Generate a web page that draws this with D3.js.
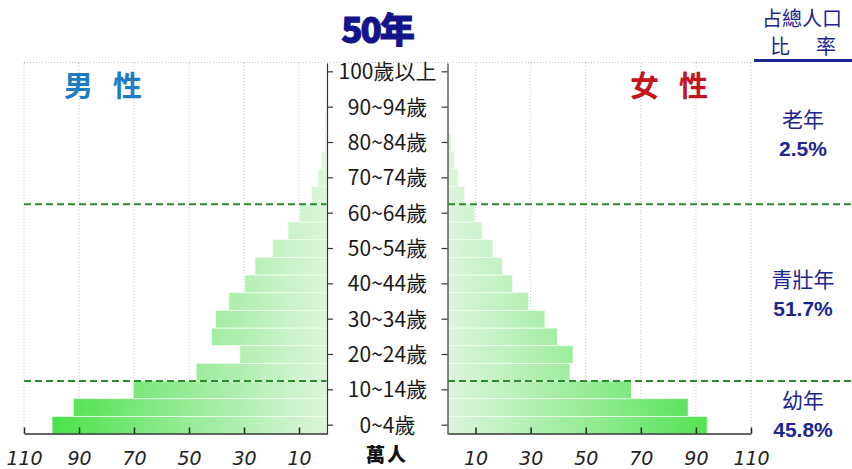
<!DOCTYPE html>
<html>
<head>
<meta charset="utf-8">
<script src="https://cdn.jsdelivr.net/npm/d3@7"></script>
<style>
  body { margin: 0; background: #fff; }
  svg { display: block; }
</style>
</head>
<body>
<div id="vis"></div>
<script>
// age groups, bottom to top
const ages = ["0~4歲", "5~9歲", "10~14歲", "15~19歲", "20~24歲", "25~29歲", "30~34歲",
  "35~39歲", "40~44歲", "45~49歲", "50~54歲", "55~59歲", "60~64歲", "65~69歲",
  "70~74歲", "75~79歲", "80~84歲", "85~89歲", "90~94歲", "95~99歲", "100歲以上"];

// population in 萬人
const male = [99.8, 92.1, 70.3, 47.4, 31.5, 41.8, 40.3, 35.5, 29.7, 26.0, 19.7, 14.0,
  9.7, 5.5, 3.1, 1.8, 0.7, 0.2, 0.05, 0, 0];
const female = [94.1, 87.2, 66.6, 44.3, 45.4, 39.7, 35.2, 29.3, 23.4, 19.7, 16.3, 12.4,
  9.6, 6.0, 3.6, 2.3, 1.2, 0.4, 0.1, 0, 0];

const xTicks = [10, 30, 50, 70, 90, 110];

const groupNames = ["老年", "青壯年", "幼年"];
const groupShares = ["2.5%", "51.7%", "45.8%"];

const W = 852, H = 469;
const plotTop = 63, plotBottom = 434;
const leftZero = 326.5, leftEnd = 24;
const rightZero = 448, rightEnd = 751;
const midX = 387;

const navy = "#1a2590";
const cjk = "'Noto Sans CJK TC', 'Noto Sans CJK SC', sans-serif";

const svg = d3.select("#vis")
  .append("svg")
  .attr("width", W)
  .attr("height", H)
  .style("font-family", cjk);

const y = d3.scaleBand()
  .domain(ages)
  .range([plotBottom, plotTop])
  .padding(0);

const xL = d3.scaleLinear().domain([0, 110]).range([leftZero, leftEnd]);
const xR = d3.scaleLinear().domain([0, 110]).range([rightZero, rightEnd]);

const defs = svg.append("defs");
function grad(id, x1, x2) {
  const g = defs.append("linearGradient")
    .attr("id", id)
    .attr("gradientUnits", "userSpaceOnUse")
    .attr("x1", x1).attr("x2", x2)
    .attr("y1", 0).attr("y2", 0);
  g.append("stop").attr("offset", "0%").attr("stop-color", "#dcf6dc");
  g.append("stop").attr("offset", "45%").attr("stop-color", "#9eec9e");
  g.append("stop").attr("offset", "100%").attr("stop-color", "#4ae24a");
}
grad("gL", xL(0), xL(100));
grad("gR", xR(0), xR(100));

// top dotted border
svg.append("line")
  .attr("x1", leftEnd).attr("x2", rightEnd)
  .attr("y1", plotTop - 0.5).attr("y2", plotTop - 0.5)
  .attr("stroke", "#c4c4cc")
  .attr("stroke-dasharray", "1,2");

// gridlines
function grid(scale) {
  svg.append("g")
    .selectAll("line")
    .data(xTicks)
    .enter()
    .append("line")
    .attr("x1", d => scale(d)).attr("x2", d => scale(d))
    .attr("y1", plotTop).attr("y2", plotBottom)
    .attr("stroke", "#c4c4cc")
    .attr("stroke-dasharray", "1,2");
}
grid(xL);
grid(xR);

// bars
svg.append("g")
  .selectAll("rect")
  .data(male)
  .enter()
  .append("rect")
  .attr("x", d => xL(d))
  .attr("y", (d, i) => y(ages[i]))
  .attr("width", d => xL(0) - xL(d))
  .attr("height", y.bandwidth())
  .attr("fill", "url(#gL)")
  .attr("stroke", "#f0fff0")
  .attr("stroke-width", 0.8);

svg.append("g")
  .selectAll("rect")
  .data(female)
  .enter()
  .append("rect")
  .attr("x", xR(0))
  .attr("y", (d, i) => y(ages[i]))
  .attr("width", d => xR(d) - xR(0))
  .attr("height", y.bandwidth())
  .attr("fill", "url(#gR)")
  .attr("stroke", "#f0fff0")
  .attr("stroke-width", 0.8);

// age axes on both sides of the label column
const labelled = ages.filter((d, i) => i % 2 === 0);

const axL = svg.append("g")
  .attr("transform", `translate(${leftZero + 0.5},0)`)
  .call(d3.axisRight(y).tickValues(labelled).tickSize(6).tickSizeOuter(0));
axL.select(".domain").attr("stroke", "#333").attr("stroke-width", 1.2);
axL.selectAll(".tick line").attr("stroke", "#333").attr("stroke-width", 1.2);
axL.selectAll(".tick text")
  .attr("x", midX - leftZero)
  .attr("dy", "0.36em")
  .attr("text-anchor", "middle")
  .attr("font-family", cjk)
  .attr("font-size", 21)
  .attr("fill", "#1a1a1a");

const axR = svg.append("g")
  .attr("transform", `translate(${rightZero - 0.5},0)`)
  .call(d3.axisLeft(y).tickValues(labelled).tickSize(6).tickSizeOuter(0).tickFormat(""));
axR.select(".domain").attr("stroke", "#333").attr("stroke-width", 1.2);
axR.selectAll(".tick line").attr("stroke", "#333").attr("stroke-width", 1.2);

// bottom axes
function bottomAxis(scale) {
  const g = svg.append("g")
    .attr("transform", `translate(0,${plotBottom - 0.5})`)
    .call(d3.axisBottom(scale).tickValues(xTicks).tickSize(-6).tickSizeOuter(0));
  g.select(".domain").attr("stroke", "#333").attr("stroke-width", 1.5);
  g.selectAll(".tick line").attr("stroke", "#222").attr("stroke-width", 1.5);
  g.selectAll(".tick text")
    .attr("y", 31)
    .attr("dy", 0)
    .attr("font-family", "'DejaVu Sans', sans-serif")
    .attr("font-style", "italic")
    .attr("font-size", 19)
    .attr("fill", "#222");
}
bottomAxis(xL);
bottomAxis(xR);

// dashed group separators
const cuts = ["65~69歲", "15~19歲"];
cuts.forEach(a => {
  const yy = y(a) + y.bandwidth();
  [[leftEnd, leftZero], [rightZero, W]].forEach(([a1, a2]) => {
    svg.append("line")
      .attr("x1", a1).attr("x2", a2)
      .attr("y1", yy).attr("y2", yy)
      .attr("stroke", "#2a8c2a")
      .attr("stroke-width", 2)
      .attr("stroke-dasharray", "7,4");
  });
});

// title
svg.append("text")
  .attr("x", midX - 10)
  .attr("y", 43)
  .attr("text-anchor", "middle")
  .attr("font-size", 35)
  .attr("font-weight", 900)
  .attr("fill", "#13138a")
  .attr("stroke", "#13138a")
  .attr("stroke-width", 1)
  .attr("letter-spacing", -2)
  .text("50年");

// sex labels
svg.append("text")
  .attr("x", 64).attr("y", 97)
  .attr("font-size", 29)
  .attr("font-weight", "bold")
  .attr("letter-spacing", 20)
  .attr("fill", "#1e7cc4")
  .text("男性");

svg.append("text")
  .attr("x", 630).attr("y", 97)
  .attr("font-size", 29)
  .attr("font-weight", "bold")
  .attr("letter-spacing", 20)
  .attr("fill", "#c4141c")
  .text("女性");

// unit
svg.append("text")
  .attr("x", midX).attr("y", 462)
  .attr("text-anchor", "middle")
  .attr("font-size", 19)
  .attr("font-weight", 900)
  .attr("fill", "#111")
  .attr("letter-spacing", 2)
  .text("萬人");

// share header
svg.append("text")
  .attr("x", 802).attr("y", 26)
  .attr("text-anchor", "middle")
  .attr("font-size", 20)
  .attr("fill", navy)
  .text("占總人口");
svg.append("text")
  .attr("x", 780).attr("y", 54)
  .attr("text-anchor", "middle")
  .attr("font-size", 20)
  .attr("fill", navy)
  .text("比");
svg.append("text")
  .attr("x", 826).attr("y", 54)
  .attr("text-anchor", "middle")
  .attr("font-size", 20)
  .attr("fill", navy)
  .text("率");
svg.append("rect")
  .attr("x", 754).attr("y", 59)
  .attr("width", 98).attr("height", 3)
  .attr("fill", navy);

// shares per group
const shareY = [127, 287, 408];
groupNames.forEach((n, i) => {
  svg.append("text")
    .attr("x", 803).attr("y", shareY[i])
    .attr("text-anchor", "middle")
    .attr("font-size", 21)
    .attr("fill", navy)
    .text(n);
  svg.append("text")
    .attr("x", 803).attr("y", shareY[i] + 29)
    .attr("text-anchor", "middle")
    .attr("font-family", "'Liberation Sans', Arial, sans-serif")
    .attr("font-size", 21)
    .attr("font-weight", "bold")
    .attr("fill", navy)
    .text(groupShares[i]);
});
</script>
</body>
</html>
